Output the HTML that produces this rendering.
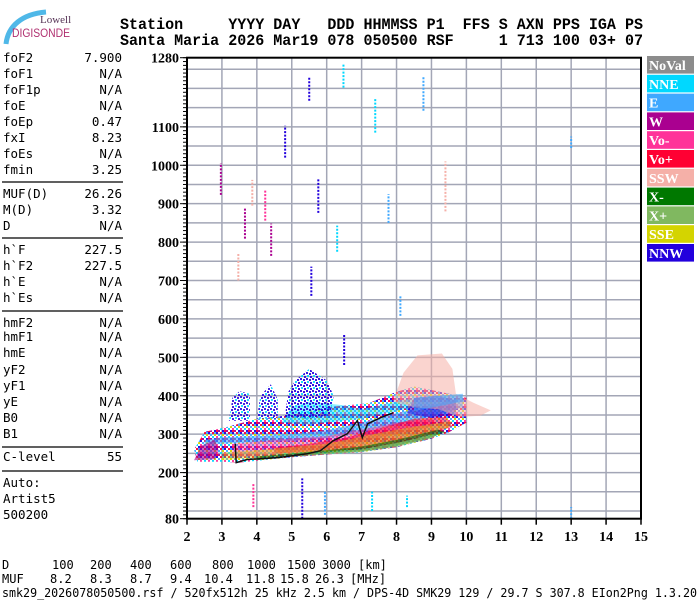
<!DOCTYPE html>
<html><head><meta charset="utf-8"><style>
html,body{margin:0;padding:0;background:#fff;width:700px;height:600px;overflow:hidden}
svg{display:block}
</style></head><body>
<svg id="chart" xmlns="http://www.w3.org/2000/svg" width="700" height="600" viewBox="0 0 700 600">
<defs>
<pattern id="mix" width="8" height="8" patternUnits="userSpaceOnUse">
<rect x="0" y="0" width="2" height="2" fill="#2200dd"/>
<rect x="4" y="0" width="2" height="2" fill="#ff0033"/>
<rect x="2" y="2" width="2" height="2" fill="#3fa8ff"/>
<rect x="6" y="2" width="2" height="2" fill="#d4d400"/>
<rect x="0" y="4" width="2" height="2" fill="#ff3399"/>
<rect x="4" y="4" width="2" height="2" fill="#00d8ff"/>
<rect x="2" y="6" width="2" height="2" fill="#aa0090"/>
<rect x="6" y="6" width="2" height="2" fill="#2200dd"/>
<rect x="6" y="0" width="2" height="2" fill="#3fa8ff"/>
<rect x="0" y="6" width="2" height="2" fill="#ff0033"/>
</pattern>
<pattern id="speck" width="6" height="6" patternUnits="userSpaceOnUse">
<rect x="0" y="0" width="2" height="2" fill="#2200dd"/>
<rect x="3" y="1" width="2" height="2" fill="#2200dd"/>
<rect x="1" y="3" width="2" height="2" fill="#00d8ff"/>
<rect x="4" y="4" width="2" height="2" fill="#2200dd"/>
</pattern>
</defs>
<g>
<path d="M6 44 C8 26 22 14 46 12" stroke="#4fb8e8" stroke-width="5" fill="none"/>
<text x="40" y="23" font-family="Liberation Serif, serif" font-size="11" fill="#553355">Lowell</text>
<text x="12" y="37" font-family="Liberation Sans, sans-serif" font-size="12" fill="#b03070" textLength="58" lengthAdjust="spacingAndGlyphs">DIGISONDE</text>
</g>
<g font-family="Liberation Mono, monospace" font-size="16" font-weight="bold" fill="#000">
<text x="120" y="29" xml:space="preserve" textLength="523" lengthAdjust="spacingAndGlyphs">Station     YYYY DAY   DDD HHMMSS P1  FFS S AXN PPS IGA PS</text>
<text x="120" y="45" xml:space="preserve" textLength="523" lengthAdjust="spacingAndGlyphs">Santa Maria 2026 Mar19 078 050500 RSF     1 713 100 03+ 07</text>
</g>
<g id="panel" font-family="DejaVu Sans Mono, monospace" font-size="12.5" fill="#000"></g>
<g id="grid"></g>
<g id="marks"></g>
<g id="axes"></g>
<g id="legend"></g>
<g font-family="DejaVu Sans Mono, monospace" font-size="12" fill="#000" id="muf"></g>
<text x="2" y="597" font-family="DejaVu Sans Mono, monospace" font-size="12" textLength="695" lengthAdjust="spacingAndGlyphs">smk29_2026078050500.rsf / 520fx512h 25 kHz 2.5 km / DPS-4D SMK29 129 / 29.7 S 307.8 EIon2Png 1.3.20</text>
</svg>
<script>
// ---- data ----
const xTicks = [2,3,4,5,6,7,8,9,10,11,12,13,14,15];
const yTickLabels = [1280,1100,1000,900,800,700,600,500,400,300,200,80];
const legendNames = ["NoVal","NNE","E","W","Vo-","Vo+","SSW","X-","X+","SSE","NNW"];
const legendColors = ["#8c8c8c","#00d8ff","#3fa8ff","#aa0090","#ff3399","#ff0033","#f5b0a8","#007800","#80b860","#d4d400","#2200dd"];
// echo regions
const echoSeries = ["MIX","E","Vo-","Vo+","SSE","X-","X+","NNE","SPECK","SPECK","SPECK","NNW","SSW","W","E"];
const echoOpacity = [0.95,0.6,0.45,0.55,0.4,0.6,0.75,0.45,0.85,0.85,0.9,0.55,0.55,0.6,0.55];
const echoShapes = [
 [[2.3,228],[3,228],[3.5,226],[5,240],[6,247],[7,253],[8,266],[9,288],[9.5,305],[10,330],[10,395],[9.5,405],[9,415],[8.5,424],[8,410],[7.2,381],[6,370],[5,350],[4,340],[3.2,320],[2.5,306],[2.2,260]],
 [[2.5,285],[3,292],[4,295],[5,300],[6,310],[7,330],[8,355],[9,375],[9.9,395],[9.9,370],[9,345],[8,325],[7,305],[6,290],[5,282],[4,280],[3,275],[2.5,275]],
 [[3.3,238],[4.5,248],[6,262],[7,280],[8,300],[9,320],[9,340],[8,330],[7,312],[6,295],[4.5,285],[3.3,275]],
 [[4.5,250],[6,255],[7,262],[8,275],[9,300],[9.6,320],[9.4,345],[8.5,340],[7.5,315],[6.5,290],[5.5,275],[4.5,265]],
 [[3,232],[4,238],[5,248],[6,255],[7,265],[8,282],[9.5,318],[9.6,335],[8,312],[6,275],[4,258],[3,252]],
 [[4,232],[5,242],[6,250],[7,256],[8,270],[9,292],[9.4,305],[9.2,312],[8,285],[7,268],[6,258],[5,250],[4,242]],
 [[4.6,238],[5,241],[6,248],[7,254],[8,267],[9,289],[9.2,300],[9,298],[8,277],[7,261],[6,252],[5,246]],
 [[4.7,330],[5,370],[5.5,385],[6.5,375],[7,365],[7.5,375],[8,385],[8.5,395],[8.5,370],[7,340],[5.5,325]],
 [[3.2,335],[3.3,395],[3.5,412],[3.8,405],[3.8,335]],
 [[4.0,340],[4.1,400],[4.4,430],[4.6,390],[4.6,340]],
 [[4.8,345],[4.9,410],[5.1,440],[5.5,470],[6.0,440],[6.2,400],[6.1,350],[5.5,340]],
 [[8.3,355],[8.5,395],[9.2,400],[9.7,388],[9.7,352],[9,342]],
 [[7.9,385],[8.2,460],[8.6,505],[9.3,510],[9.6,470],[9.7,405],[10.2,382],[10.7,362],[10.4,348],[9.8,345],[9.2,365],[8.5,370]],
 [[2.2,232],[2.8,235],[2.9,260],[2.8,285],[2.4,270]],
 [[8.5,360],[9.9,385],[9.9,405],[8.5,395]]
];
// sparse vertical echo streaks
const streakF =   [4.81,5.5,7.39,6.48,8.77,5.76,3.66,4.24,3.87,4.41,3.47,6.3,5.56,8.11,7.77,2.97,5.3,3.9,13.0,13.0,6.5,5.95,7.3,8.3,9.4];
const streakLo =  [1020,1168,1085,1202,1142,876,809,856,895,764,700,775,660,608,850,923,80,110,80,1045,480,90,100,110,880];
const streakHi =  [1103,1230,1176,1262,1230,965,887,934,962,848,772,843,736,660,925,1006,185,170,110,1075,560,150,150,140,1010];
const streakSeries = ["NNW","NNW","NNE","NNE","E","NNW","W","Vo-","SSW","W","SSW","NNE","NNW","E","E","W","NNW","Vo-","E","E","NNW","E","NNE","NNE","SSW"];
// leading-edge trace
const traceF = [3.38,3.41,3.72,4.61,5.44,5.82,6.19,6.59,6.88,7.02,7.17,7.54,7.91];
const traceH = [275,226,234,239,249,257,283,301,335,291,327,343,356];
// parameter panel
const panelNames = ["foF2","foF1","foF1p","foE","foEp","fxI","foEs","fmin","MUF(D)","M(D)","D","h`F","h`F2","h`E","h`Es","hmF2","hmF1","hmE","yF2","yF1","yE","B0","B1","C-level"];
const panelValues = ["7.900","N/A","N/A","N/A","0.47","8.23","N/A","3.25","26.26","3.32","N/A","227.5","227.5","N/A","N/A","N/A","N/A","N/A","N/A","N/A","N/A","N/A","N/A","55"];
const distKm = ["100","200","400","600","800","1000","1500","3000"];
const mufMHz = ["8.2","8.3","8.7","9.4","10.4","11.8","15.8","26.3"];

// ---- scales ----
const X0=187, X1=641, Y0=57.7, Y1=518.7;
const fx = f => X0 + (f-2)*(X1-X0)/13;
const hy = h => Y1 - (h-80)*(Y1-Y0)/1200;
const NS="http://www.w3.org/2000/svg";
function mk(tag, attrs, parent){const e=document.createElementNS(NS,tag);for(const k in attrs)e.setAttribute(k,attrs[k]);parent.appendChild(e);return e;}
const colorOf = s => s==="MIX" ? "url(#mix)" : s==="SPECK" ? "url(#speck)" : legendColors[legendNames.indexOf(s)];

// grid
const grid=document.getElementById('grid');
for(let h=100;h<1280;h+=50){const l=mk('line',{x1:X0,x2:X1,y1:hy(h),y2:hy(h),stroke:'#a3a6b6','stroke-width':1.5},grid);

}
xTicks.forEach(f=>{if(f>2&&f<15){const l=mk('line',{x1:fx(f),x2:fx(f),y1:Y0,y2:Y1,stroke:'#a3a6b6','stroke-width':1.5},grid);

}});

// marks
const marks=document.getElementById('marks');
echoShapes.forEach((pts,i)=>{
 const p=mk('polygon',{points:pts.map(q=>fx(q[0]).toFixed(1)+','+hy(q[1]).toFixed(1)).join(' '),fill:colorOf(echoSeries[i]),'fill-opacity':echoOpacity[i]},marks);
 
 
});
streakF.forEach((f,i)=>{
 const l=mk('line',{x1:fx(f),x2:fx(f),y1:hy(streakLo[i]),y2:hy(streakHi[i]),stroke:colorOf(streakSeries[i]),'stroke-width':2,'stroke-dasharray':'2 1.5'},marks);
 
 
});
const tr=mk('polyline',{points:traceF.map((f,i)=>fx(f).toFixed(1)+','+hy(traceH[i]).toFixed(1)).join(' '),fill:'none',stroke:'#111','stroke-width':1.5},marks);



// axes
const ax=document.getElementById('axes');
mk('rect',{x:X0,y:Y0,width:X1-X0,height:Y1-Y0,fill:'none',stroke:'#000','stroke-width':2},ax);
for(let h=80;h<=1280;h+=10){mk('line',{x1:X0-4,x2:X0,y1:hy(h),y2:hy(h),stroke:'#000','stroke-width':1},ax);}
yTickLabels.forEach(h=>{
 mk('line',{x1:X0-7,x2:X0,y1:hy(h),y2:hy(h),stroke:'#000','stroke-width':1},ax);
 const t=mk('text',{x:X0-8,y:hy(h)+5,'text-anchor':'end','font-family':'Liberation Serif, serif','font-size':14,'font-weight':'bold'},ax);
 t.textContent=h;
 
 
});
xTicks.forEach(f=>{
 mk('line',{x1:fx(f),x2:fx(f),y1:Y1,y2:Y1+6,stroke:'#000','stroke-width':1.5},ax);
 const t=mk('text',{x:fx(f),y:541,'text-anchor':'middle','font-family':'Liberation Serif, serif','font-size':14,'font-weight':'bold'},ax);
 t.textContent=f;
 
 
});

// legend
const lg=document.getElementById('legend');
legendNames.forEach((n,i)=>{
 const y=56+i*18.8;
 const r=mk('rect',{x:647,y:y,width:47,height:17.6,fill:legendColors[i]},lg);
 
 
 const t=mk('text',{x:649,y:y+14,fill:'#fff','font-family':'Liberation Serif, serif','font-size':14,'font-weight':'bold'},lg);
 t.textContent=n;
 
 
});

// panel
const pn=document.getElementById('panel');
const rowY=[62,78,94,110,126,142,158,174,198,214,230,254,270,286,302,327,341,357,374,390,406,422,438,461];
panelNames.forEach((n,i)=>{
 const a=mk('text',{x:3,y:rowY[i]},pn); a.textContent=n;
 
 
 const b=mk('text',{x:122,y:rowY[i],'text-anchor':'end'},pn); b.textContent=panelValues[i];
 
 
});
[182,238,311,447,471].forEach(y=>{const l=mk('line',{x1:2,x2:123,y1:y,y2:y,stroke:'#000','stroke-width':1.2},pn);

});
[["Auto:",487],["Artist5",503],["500200",519]].forEach(r=>{const t=mk('text',{x:3,y:r[1]},pn);t.textContent=r[0];

});

// MUF table
const mf=document.getElementById('muf');
const dStart=[52,90,130,170,212,247,287,322];
const mStart=[50,90,130,170,204,246,280,315];
let t=mk('text',{x:2,y:569},mf);t.textContent='D';


t=mk('text',{x:2,y:583},mf);t.textContent='MUF';


distKm.forEach((d,i)=>{const e=mk('text',{x:dStart[i],y:569},mf);e.textContent=d;

});
mufMHz.forEach((d,i)=>{const e=mk('text',{x:mStart[i],y:583},mf);e.textContent=d;

});
t=mk('text',{x:358,y:569},mf);t.textContent='[km]';


t=mk('text',{x:350,y:583},mf);t.textContent='[MHz]';


</script>
</body></html>
